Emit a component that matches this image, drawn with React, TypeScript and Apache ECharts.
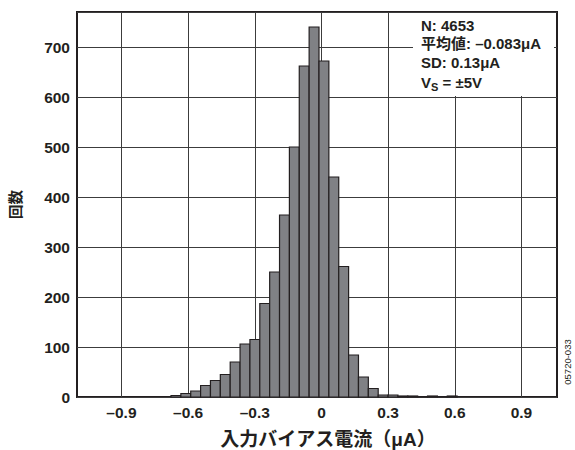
import React, { useEffect, useRef } from "react";
import * as echarts from "echarts";

// Histogram bins (μA)
const binStart = -0.677;
const binWidth = 0.0444;
const counts = [3, 7, 12, 23, 33, 45, 70, 106, 115, 187, 250, 364, 500, 662, 740, 672, 440, 261, 84, 40, 17, 4, 4, 2, 2, 0, 2, 0, 2];

const xTicks = [-0.9, -0.6, -0.3, 0, 0.3, 0.6, 0.9];

const statLines = ["N: 4653", "平均値: –0.083μA", "SD: 0.13μA"];

const FONT = "'Liberation Sans', 'Noto Sans CJK JP', sans-serif";
const INK = "#231f20";

export default function App() {
  const ref = useRef<HTMLDivElement>(null);
  useEffect(() => {
    if (!ref.current) return;
    document.body.style.margin = "0";
    const chart = echarts.init(ref.current, undefined, { renderer: "svg" });
    const data = counts.map((c, i) => [
      binStart + i * binWidth,
      binStart + (i + 1) * binWidth,
      c,
    ]);
    const fmt = (v: number) => {
      if (Math.abs(v) < 1e-9) return "0";
      const s = Math.abs(v).toFixed(1);
      return v < 0 ? "–" + s : s;
    };
    const textBase = { fontFamily: FONT, fontWeight: "bold" as const, color: INK };
    chart.setOption({
      animation: false,
      grid: {
        left: 77,
        right: 18,
        top: 12,
        bottom: 53,
        show: true,
        borderColor: INK,
        borderWidth: 2,
        backgroundColor: "#fff",
        outerBoundsMode: "none",
        containLabel: false,
      },
      xAxis: {
        type: "value",
        min: -1.1,
        max: 1.06,
        axisLine: { show: false },
        axisTick: { show: false, customValues: xTicks },
        axisLabel: {
          customValues: xTicks,
          formatter: fmt,
          fontSize: 15.5,
          margin: 8,
          ...textBase,
        },
        splitLine: { show: true, lineStyle: { color: "#3c3c3c", width: 1 } },
        name: "入力バイアス電流（μA）",
        nameLocation: "middle",
        nameGap: 33,
        nameTextStyle: { fontSize: 19, padding: [0, 0, 0, 22], ...textBase },
      },
      yAxis: {
        type: "value",
        min: 0,
        max: 770,
        interval: 100,
        axisLine: { show: false },
        axisTick: { show: false },
        axisLabel: {
          showMaxLabel: false,
          fontSize: 15.5,
          margin: 7,
          ...textBase,
        },
        splitLine: { show: true, lineStyle: { color: "#3c3c3c", width: 1 } },
        name: "回数",
        nameLocation: "middle",
        nameRotate: 90,
        nameGap: 54,
        nameTextStyle: { fontSize: 14.5, ...textBase },
      },
      series: [
        {
          type: "custom",
          data,
          encode: { x: [0, 1], y: 2 },
          z: 5,
          renderItem: (params: any, api: any) => {
            const p0 = api.coord([api.value(0), api.value(2)]);
            const p1 = api.coord([api.value(1), 0]);
            return {
              type: "rect",
              shape: { x: p0[0], y: p0[1], width: p1[0] - p0[0], height: p1[1] - p0[1] },
              style: { fill: "#808185", stroke: INK, lineWidth: 1.2 },
            };
          },
        },
      ],
      graphic: [
        {
          type: "rect",
          z: 50,
          shape: { x: 413, y: 13, width: 141, height: 83 },
          style: { fill: "#fff" },
        },
        ...statLines.map((t, i) => ({
          type: "text",
          z: 51,
          x: 421,
          y: 25 + i * 18.6,
          style: {
            text: t,
            fontSize: 15,
            fontFamily: FONT,
            fontWeight: "bold",
            fill: INK,
            verticalAlign: "middle",
          },
        })),
        {
          type: "text",
          z: 51,
          x: 421,
          y: 82,
          style: {
            text: "{a|V}{s|S}{a| = ±5V}",
            fontFamily: FONT,
            fontWeight: "bold",
            fill: INK,
            verticalAlign: "middle",
            rich: {
              a: { fontSize: 15, lineHeight: 20, fontFamily: FONT, fontWeight: "bold", fill: INK },
              s: { fontSize: 11, lineHeight: 11, verticalAlign: "bottom", fontFamily: FONT, fontWeight: "bold", fill: INK },
            },
          },
        },
        {
          type: "text",
          z: 51,
          x: 567,
          y: 362,
          rotation: Math.PI / 2,
          style: {
            text: "05720-033",
            fontSize: 9.5,
            fontFamily: FONT,
            fill: INK,
            align: "center",
            verticalAlign: "middle",
          },
        },
      ],
    });
    return () => chart.dispose();
  }, []);
  return <div ref={ref} style={{ width: 575, height: 450 }} />;
}
